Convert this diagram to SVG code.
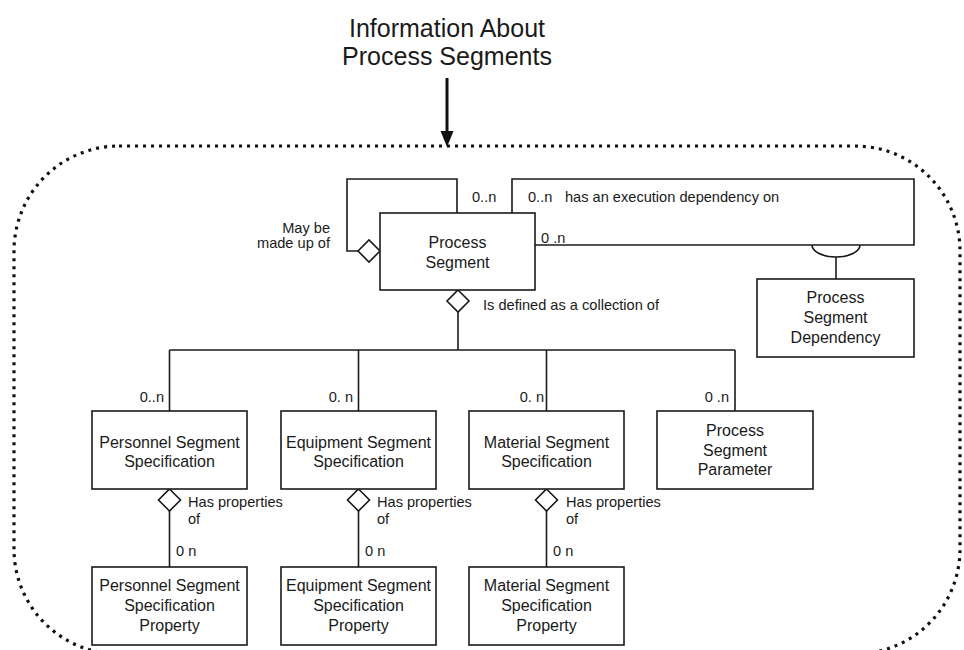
<svg xmlns="http://www.w3.org/2000/svg" width="964" height="650" viewBox="0 0 964 650">
<style>
.bg{fill:#ffffff}
.box{fill:#ffffff;stroke:#1a1a1a;stroke-width:1.6}
.ln{fill:none;stroke:#1a1a1a;stroke-width:1.6}
.dia{fill:#ffffff;stroke:#1a1a1a;stroke-width:1.6}
.bt{font-family:"Liberation Sans",Arial,sans-serif;font-size:16px;fill:#1a1a1a;text-anchor:middle}
.lb{font-family:"Liberation Sans",Arial,sans-serif;font-size:14.6px;fill:#1a1a1a}
.title{font-family:"Liberation Sans",Arial,sans-serif;font-size:25px;fill:#1a1a1a;text-anchor:middle}
.dot{fill:none;stroke:#111;stroke-width:3.2;stroke-dasharray:3 5}
</style>
<rect class="bg" x="0" y="0" width="964" height="650"/>

<g id="title">
<text class="title" x="447" y="37">Information About</text>
<text class="title" x="447" y="65">Process Segments</text>
<line x1="447" y1="78" x2="447" y2="134" stroke="#111" stroke-width="3"/>
<polygon points="440.5,131 453.5,131 447,147" fill="#111"/>
</g>

<g id="boundary">
<rect class="dot" x="14" y="146" width="946" height="508" rx="105" ry="105"/>
</g>

<g id="connectors">
<polyline class="ln" points="358,251 347,251 347,179 457,179 457,213"/>
<polyline class="ln" points="512,213 512,179 914,179 914,245 535,245"/>
<path class="ln" d="M812,245 A24,12 0 0 0 860,245"/>
<line class="ln" x1="836" y1="257" x2="836" y2="279"/>
<line class="ln" x1="458" y1="312" x2="458" y2="350"/>
<line class="ln" x1="169.5" y1="350" x2="735" y2="350"/>
<line class="ln" x1="169.5" y1="350" x2="169.5" y2="411"/>
<line class="ln" x1="358.5" y1="350" x2="358.5" y2="411"/>
<line class="ln" x1="546.5" y1="350" x2="546.5" y2="411"/>
<line class="ln" x1="735" y1="350" x2="735" y2="411"/>
<line class="ln" x1="169.5" y1="511" x2="169.5" y2="567"/>
<line class="ln" x1="358.5" y1="511" x2="358.5" y2="567"/>
<line class="ln" x1="546.5" y1="511" x2="546.5" y2="567"/>
<polygon class="dia" points="358,251 369,240 380,251 369,262"/>
<polygon class="dia" points="458,290 469,301 458,312 447,301"/>
<polygon class="dia" points="169.5,489 180.5,500 169.5,511 158.5,500"/>
<polygon class="dia" points="358.5,489 369.5,500 358.5,511 347.5,500"/>
<polygon class="dia" points="546.5,489 557.5,500 546.5,511 535.5,500"/>
<text class="lb" x="472" y="202">0..n</text>
<text class="lb" x="528" y="202">0..n</text>
<text class="lb" x="565" y="202">has an execution dependency on</text>
<text class="lb" x="541" y="243">0 .n</text>
<text class="lb" x="330" y="233" text-anchor="end">May be</text>
<text class="lb" x="330" y="248" text-anchor="end">made up of</text>
<text class="lb" x="483" y="310">Is defined as a collection of</text>
<text class="lb" x="164" y="402" text-anchor="end">0..n</text>
<text class="lb" x="353" y="402" text-anchor="end">0. n</text>
<text class="lb" x="544" y="402" text-anchor="end">0. n</text>
<text class="lb" x="729" y="402" text-anchor="end">0 .n</text>
<text class="lb" x="188" y="507">Has properties</text>
<text class="lb" x="188" y="524">of</text>
<text class="lb" x="377" y="507">Has properties</text>
<text class="lb" x="377" y="524">of</text>
<text class="lb" x="566" y="507">Has properties</text>
<text class="lb" x="566" y="524">of</text>
<text class="lb" x="176" y="556">0 n</text>
<text class="lb" x="365" y="556">0 n</text>
<text class="lb" x="553" y="556">0 n</text>
</g>

<g id="process-segment">
<rect class="box" x="380" y="213" width="155" height="77"/>
<text class="bt" x="457.5" y="248">Process</text>
<text class="bt" x="457.5" y="268">Segment</text>
</g>

<g id="process-segment-dependency">
<rect class="box" x="757" y="279" width="157" height="78"/>
<text class="bt" x="835.5" y="303">Process</text>
<text class="bt" x="835.5" y="323">Segment</text>
<text class="bt" x="835.5" y="343">Dependency</text>
</g>

<g id="personnel-segment-specification">
<rect class="box" x="92" y="411" width="155" height="78"/>
<text class="bt" x="169.5" y="448">Personnel Segment</text>
<text class="bt" x="169.5" y="467">Specification</text>
</g>

<g id="equipment-segment-specification">
<rect class="box" x="281" y="411" width="155" height="78"/>
<text class="bt" x="358.5" y="448">Equipment Segment</text>
<text class="bt" x="358.5" y="467">Specification</text>
</g>

<g id="material-segment-specification">
<rect class="box" x="469" y="411" width="155" height="78"/>
<text class="bt" x="546.5" y="448">Material Segment</text>
<text class="bt" x="546.5" y="467">Specification</text>
</g>

<g id="process-segment-parameter">
<rect class="box" x="657" y="411" width="156" height="78"/>
<text class="bt" x="735" y="436">Process</text>
<text class="bt" x="735" y="456">Segment</text>
<text class="bt" x="735" y="475">Parameter</text>
</g>

<g id="personnel-segment-specification-property">
<rect class="box" x="92" y="567" width="155" height="78"/>
<text class="bt" x="169.5" y="591">Personnel Segment</text>
<text class="bt" x="169.5" y="611">Specification</text>
<text class="bt" x="169.5" y="631">Property</text>
</g>

<g id="equipment-segment-specification-property">
<rect class="box" x="281" y="567" width="155" height="78"/>
<text class="bt" x="358.5" y="591">Equipment Segment</text>
<text class="bt" x="358.5" y="611">Specification</text>
<text class="bt" x="358.5" y="631">Property</text>
</g>

<g id="material-segment-specification-property">
<rect class="box" x="469" y="567" width="155" height="78"/>
<text class="bt" x="546.5" y="591">Material Segment</text>
<text class="bt" x="546.5" y="611">Specification</text>
<text class="bt" x="546.5" y="631">Property</text>
</g>
</svg>
